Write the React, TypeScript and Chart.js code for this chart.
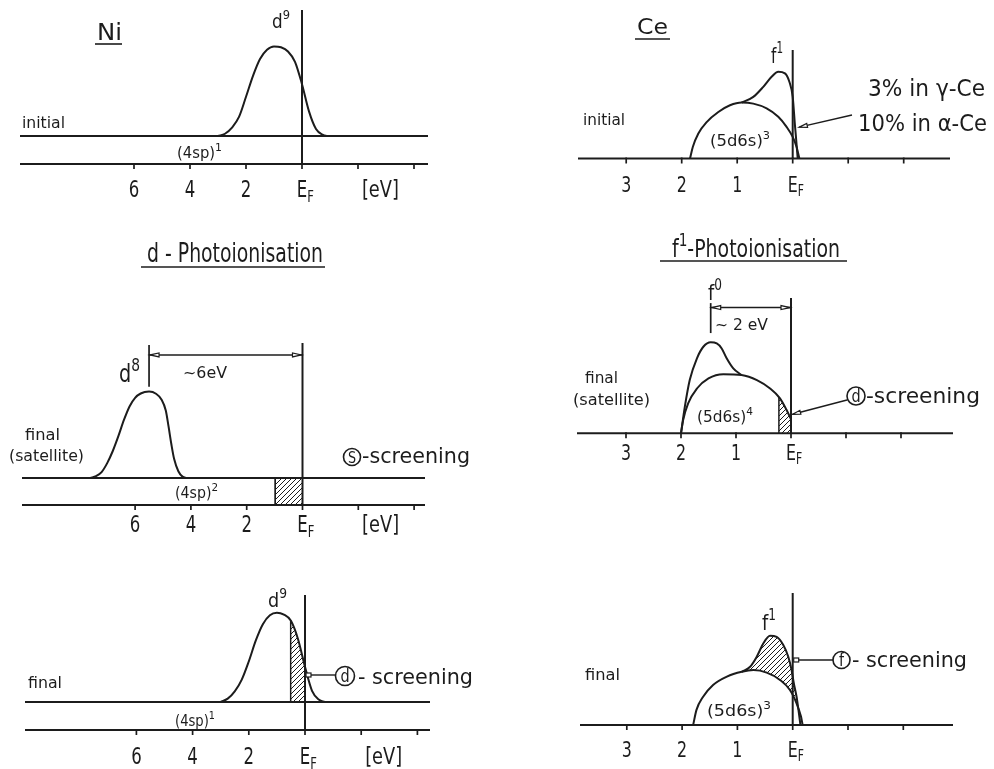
import React, { useEffect, useRef } from 'react';
import { Chart, registerables } from 'chart.js';

Chart.register(...registerables);

const W = 994;
const H = 769;
const INK = '#1c1c1c';
const FONT_FAMILY = '"DejaVu Sans", "Liberation Sans", Arial, sans-serif';

// ---------- energy axes: binding energy in eV, E_F = 0, growing to the left ----------
const niTicks = [6, 4, 2, 0, -2, -4];
const niTickLabels = ['6', '4', '2', 'EF', '', ''];
const ceTicks = [3, 2, 1, 0, -1, -2];
const ceTickLabels = ['3', '2', '1', 'EF', '', ''];
const niUnitLabelAt = -2.8;

// ---------- Ni: the (4sp) band sits below the d states ----------
const niBandLevel = 1;

// Ni, initial state: d9 band
const niInitD9Ev = [3.0, 2.75, 2.5, 2.25, 2.0, 1.75, 1.5, 1.25, 1.0, 0.75, 0.5, 0.25, 0.0, -0.25, -0.5, -0.75, -0.9];
const niInitD9I = [1.0, 1.08, 1.3, 1.68, 2.4, 3.15, 3.75, 4.08, 4.2, 4.17, 4.02, 3.65, 2.85, 1.88, 1.25, 1.04, 1.0];

// Ni, final state (satellite): d8 line ~6 eV below E_F
const niSatD8Ev = [7.6, 7.4, 7.2, 7.0, 6.8, 6.6, 6.4, 6.2, 6.0, 5.8, 5.5, 5.25, 5.05, 4.9, 4.8, 4.7, 4.6, 4.45, 4.3, 4.15];
const niSatD8I = [1.0, 1.07, 1.22, 1.55, 2.0, 2.55, 3.15, 3.65, 3.97, 4.13, 4.2, 4.12, 3.9, 3.5, 2.9, 2.25, 1.7, 1.25, 1.05, 1.0];
// s-screening: the (4sp) states between ~1 eV and E_F
const niSatScreenEv = [0.98, 0.98, 0];
const niSatScreenI = [0, 1, 1];
const niSatMarkTop = 5.93;
const niSatArrowLevel = 5.56;

// Ni, final state: d9 with d-screening
const niFinD9Ev = [3.0, 2.75, 2.5, 2.25, 2.0, 1.75, 1.5, 1.25, 1.0, 0.75, 0.5, 0.25, 0.0, -0.25, -0.5, -0.7];
const niFinD9I = [1.0, 1.12, 1.38, 1.8, 2.45, 3.2, 3.78, 4.1, 4.19, 4.12, 3.9, 3.25, 2.26, 1.4, 1.08, 1.0];
const niFinScreenEv = [0.51, 0.51, 0.4, 0.3, 0.2, 0.1, 0.0];
const niFinScreenI = [1.0, 3.9, 3.64, 3.38, 3.05, 2.66, 2.26];

// Ce, initial state: (5d6s)^3 band and f1 peak
const ceInitDomeEv = [1.85, 1.8, 1.7, 1.55, 1.34, 1.13, 0.92, 0.71, 0.47, 0.26, 0.11, 0.0, -0.07, -0.12];
const ceInitDomeI = [0, 0.41, 0.89, 1.3, 1.66, 1.9, 2.0, 1.96, 1.79, 1.49, 1.13, 0.77, 0.41, 0];
const ceInitF1Ev = [0.92, 0.71, 0.53, 0.38, 0.26, 0.14, 0.06, 0.0, -0.04, -0.07, -0.09];
const ceInitF1I = [2.0, 2.2, 2.56, 2.92, 3.1, 3.04, 2.74, 2.2, 1.2, 0.5, 0];

// Ce, final state (satellite): f0 peak on (5d6s)^4 band
const ceSatF0Ev = [2.0, 1.93, 1.84, 1.71, 1.59, 1.46, 1.35, 1.26, 1.17, 1.05, 0.9];
const ceSatF0I = [0, 0.95, 1.91, 2.68, 3.1, 3.25, 3.21, 3.03, 2.68, 2.32, 2.08];
const ceSatDomeEv = [2.0, 1.96, 1.87, 1.71, 1.5, 1.23, 0.9, 0.62, 0.38, 0.2, 0.08, 0.0];
const ceSatDomeI = [0, 0.48, 1.07, 1.6, 1.96, 2.11, 2.08, 1.9, 1.6, 1.25, 0.83, 0.5];
const ceSatScreenEv = [0.22, 0.22, 0.2, 0.14, 0.08, 0.04, 0.0];
const ceSatScreenI = [0, 1.3, 1.25, 1.06, 0.83, 0.67, 0.5];
const ceSatMarkLow = 3.58;
const ceSatMarkTop = 4.65;
const ceSatArrowLevel = 4.49;

// Ce, final state: f1 with f-screening on (5d6s)^3 band
const ceFinDomeEv = [1.8, 1.74, 1.62, 1.44, 1.19, 0.92, 0.71, 0.47, 0.23, 0.05, -0.07, -0.15, -0.18];
const ceFinDomeI = [0, 0.54, 1.01, 1.43, 1.73, 1.9, 1.96, 1.87, 1.61, 1.25, 0.77, 0.3, 0];
const ceFinF1Ev = [0.92, 0.77, 0.65, 0.53, 0.41, 0.29, 0.17, 0.08, 0.02, -0.02, -0.07, -0.1, -0.14];
const ceFinF1I = [1.9, 2.08, 2.44, 2.92, 3.19, 3.15, 2.86, 2.44, 1.96, 1.49, 1.01, 0.6, 0];

// ---------------------------------------------------------------------------

type Part = { t: string; sup?: boolean; sub?: boolean };
type Opt = { w?: number; sx?: number; align?: 'left' | 'center' | 'right' };

function drawRich(ctx: CanvasRenderingContext2D, parts: Part[], x: number, y: number, size: number, opt: Opt = {}) {
  ctx.save();
  const fontFor = (p: Part) => `${p.sup || p.sub ? Math.round(size * 0.7) : size}px ${FONT_FAMILY}`;
  const widths = parts.map((p) => {
    ctx.font = fontFor(p);
    return ctx.measureText(p.t).width;
  });
  const total = widths.reduce((a, b) => a + b, 0);
  const s = opt.w ? opt.w / total : opt.sx ?? 0.8;
  const drawn = total * s;
  let x0 = x;
  if (opt.align === 'center') x0 = x - drawn / 2;
  else if (opt.align === 'right') x0 = x - drawn;
  ctx.translate(x0, y);
  ctx.scale(s, 1);
  ctx.fillStyle = INK;
  ctx.textBaseline = 'alphabetic';
  ctx.textAlign = 'left';
  let cx = 0;
  parts.forEach((p, i) => {
    ctx.font = fontFor(p);
    const dy = p.sup ? -size * 0.45 : p.sub ? size * 0.2 : 0;
    ctx.fillText(p.t, cx, dy);
    cx += widths[i];
  });
  ctx.restore();
  return drawn;
}

function stroke(ctx: CanvasRenderingContext2D, pts: number[][], width = 1.7) {
  ctx.save();
  ctx.strokeStyle = INK;
  ctx.lineWidth = width;
  ctx.beginPath();
  pts.forEach(([x, y], i) => (i ? ctx.lineTo(x, y) : ctx.moveTo(x, y)));
  ctx.stroke();
  ctx.restore();
}

function arrowHead(ctx: CanvasRenderingContext2D, x: number, y: number, dx: number, dy: number, len = 9, half = 2) {
  const n = Math.hypot(dx, dy);
  const ux = dx / n;
  const uy = dy / n;
  const bx = x - ux * len;
  const by = y - uy * len;
  ctx.save();
  ctx.strokeStyle = INK;
  ctx.lineWidth = 1.2;
  ctx.fillStyle = '#fff';
  ctx.beginPath();
  ctx.moveTo(x, y);
  ctx.lineTo(bx - uy * half, by + ux * half);
  ctx.lineTo(bx + uy * half, by - ux * half);
  ctx.closePath();
  ctx.fill();
  ctx.stroke();
  ctx.restore();
}

function circled(ctx: CanvasRenderingContext2D, cx: number, cy: number, r: number, letter: string, size: number) {
  ctx.save();
  ctx.strokeStyle = INK;
  ctx.lineWidth = 1.6;
  ctx.beginPath();
  ctx.arc(cx, cy, r, 0, Math.PI * 2);
  ctx.stroke();
  ctx.restore();
  drawRich(ctx, [{ t: letter }], cx, cy + size * 0.37, size, { align: 'center', sx: 0.85 });
}

const X = (c: Chart, v: number) => c.scales.x.getPixelForValue(v);
const Y = (c: Chart, v: number) => c.scales.y.getPixelForValue(v);

function energyAxis(c: Chart, ticks: number[], labels: string[], baseline: number, size: number, unitAt?: number) {
  const ctx = c.ctx;
  const a = c.chartArea;
  const y0 = Y(c, 0);
  stroke(ctx, [[a.left, y0], [a.right, y0]], 2);
  ticks.forEach((t, i) => {
    const px = X(c, t);
    stroke(ctx, [[px, y0 - 1], [px, y0 + 5]], 1.7);
    const lab = labels[i];
    if (lab === 'EF') {
      ctx.save();
      ctx.font = `${size}px ${FONT_FAMILY}`;
      const wE = ctx.measureText('E').width * 0.72;
      ctx.restore();
      drawRich(ctx, [{ t: 'E' }, { t: 'F', sub: true }], px - wE / 2, baseline, size, { sx: 0.72 });
    } else if (lab) {
      drawRich(ctx, [{ t: lab }], px, baseline, size, { align: 'center', sx: 0.72 });
    }
  });
  if (unitAt !== undefined) drawRich(ctx, [{ t: '[eV]' }], X(c, unitAt), baseline, size, { align: 'center', w: 37 });
}

function underline(ctx: CanvasRenderingContext2D, x1: number, x2: number, y: number) {
  stroke(ctx, [[x1, y], [x2, y]], 1.6);
}

function openTag(ctx: CanvasRenderingContext2D, x: number, y: number) {
  ctx.save();
  ctx.strokeStyle = INK;
  ctx.lineWidth = 1.2;
  ctx.fillStyle = '#fff';
  ctx.fillRect(x, y - 2, 5, 4);
  ctx.strokeRect(x, y - 2, 5, 4);
  ctx.restore();
}

// ---------------------------------------------------------------------------

type Geo = { left: number; right: number; top: number; bottom: number; ef: number; pxPerEv: number; pxPerUnit: number };
type Range = { xMin: number; xMax: number; yMax: number };

const range = (g: Geo): Range => ({
  xMin: (g.ef - g.right) / g.pxPerEv,
  xMax: (g.ef - g.left) / g.pxPerEv,
  yMax: (g.bottom - g.top) / g.pxPerUnit,
});

const line = (xs: number[], ys: number[], extra: Record<string, unknown> = {}) => ({
  data: xs.map((x, i) => ({ x, y: ys[i] })),
  borderColor: INK,
  borderWidth: 2,
  pointRadius: 0,
  pointHoverRadius: 0,
  fill: false,
  tension: 0,
  clip: false,
  ...extra,
});
const smooth = (xs: number[], ys: number[], extra: Record<string, unknown> = {}) =>
  line(xs, ys, { cubicInterpolationMode: 'monotone', ...extra });
const hatchFill = (xs: number[], ys: number[], pattern: CanvasPattern, fill: unknown, extra: Record<string, unknown> = {}) =>
  line(xs, ys, { borderColor: 'rgba(0,0,0,0)', borderWidth: 0, backgroundColor: pattern, fill, ...extra });

const peakEv = (xs: number[], ys: number[]) => xs[ys.indexOf(Math.max(...ys))];

type Panel = {
  id: string;
  geo: Geo;
  datasets: (r: Range, hatch: CanvasPattern) => any[];
  decorate: (c: Chart) => void;
};

const PANELS: Panel[] = [
  {
    id: 'ni-initial',
    geo: { left: 20, right: 428, top: 10, bottom: 164, ef: 302, pxPerEv: 28, pxPerUnit: 28 },
    datasets: (r) => [
      line([r.xMax, r.xMin], [niBandLevel, niBandLevel]),
      smooth(niInitD9Ev, niInitD9I),
      line([0, 0], [0, r.yMax]),
    ],
    decorate: (c) => {
      const ctx = c.ctx;
      drawRich(ctx, [{ t: 'Ni' }], 97, 40, 23, { w: 25 });
      underline(ctx, 95, 122, 44);
      drawRich(ctx, [{ t: 'd' }, { t: '9', sup: true }], 272, 28, 19, { w: 18 });
      drawRich(ctx, [{ t: 'initial' }], 22, 128, 16, { w: 43 });
      drawRich(ctx, [{ t: '(4sp)' }, { t: '1', sup: true }], 177, 158, 15, { w: 45 });
      energyAxis(c, niTicks, niTickLabels, 197, 23, niUnitLabelAt);
    },
  },
  {
    id: 'ni-satellite',
    geo: { left: 22, right: 425, top: 343, bottom: 505, ef: 302.5, pxPerEv: 27.9, pxPerUnit: 27 },
    datasets: (r, hatch) => [
      hatchFill(niSatScreenEv, niSatScreenI, hatch, 'origin', { borderColor: INK, borderWidth: 1.7 }),
      line([r.xMax, r.xMin], [niBandLevel, niBandLevel]),
      smooth(niSatD8Ev, niSatD8I),
      line([0, 0], [0, r.yMax]),
    ],
    decorate: (c) => {
      const ctx = c.ctx;
      drawRich(ctx, [{ t: 'd - Photoionisation' }], 147, 262, 26, { w: 176 });
      underline(ctx, 141, 325, 267);
      const pk = peakEv(niSatD8Ev, niSatD8I);
      const top = Math.max(...niSatD8I);
      const xp = X(c, pk);
      stroke(ctx, [[xp, Y(c, niSatMarkTop)], [xp, Y(c, top + 0.18)]], 1.7);
      const ya = Y(c, niSatArrowLevel);
      stroke(ctx, [[xp, ya], [X(c, 0), ya]], 1.5);
      arrowHead(ctx, xp + 1, ya, -1, 0);
      arrowHead(ctx, X(c, 0) - 1, ya, 1, 0);
      drawRich(ctx, [{ t: 'd' }, { t: '8', sup: true }], 119, 382, 25, { w: 21 });
      drawRich(ctx, [{ t: '~6eV' }], 183, 378, 16, { w: 44 });
      drawRich(ctx, [{ t: 'final' }], 25, 440, 16, { w: 35 });
      drawRich(ctx, [{ t: '(satellite)' }], 9, 461, 16, { w: 75 });
      circled(ctx, 352, 457, 8.5, 'S', 15);
      drawRich(ctx, [{ t: '-screening' }], 362, 463, 22, { w: 108 });
      drawRich(ctx, [{ t: '(4sp)' }, { t: '2', sup: true }], 175, 498, 15, { w: 43 });
      energyAxis(c, niTicks, niTickLabels, 532, 23, niUnitLabelAt);
    },
  },
  {
    id: 'ni-final',
    geo: { left: 25, right: 430, top: 595, bottom: 730, ef: 305, pxPerEv: 28.1, pxPerUnit: 28 },
    datasets: (r, hatch) => [
      hatchFill(niFinScreenEv, niFinScreenI, hatch, { value: niBandLevel }),
      line(niFinScreenEv.slice(0, 2), niFinScreenI.slice(0, 2), { borderWidth: 1.5 }),
      line([r.xMax, r.xMin], [niBandLevel, niBandLevel]),
      smooth(niFinD9Ev, niFinD9I),
      line([0, 0], [0, r.yMax]),
    ],
    decorate: (c) => {
      const ctx = c.ctx;
      drawRich(ctx, [{ t: 'd' }, { t: '9', sup: true }], 268, 607, 20, { w: 19 });
      drawRich(ctx, [{ t: 'final' }], 28, 688, 16, { w: 34 });
      drawRich(ctx, [{ t: '(4sp)' }, { t: '1', sup: true }], 175, 726, 15, { w: 40 });
      openTag(ctx, X(c, 0) + 1, 675);
      stroke(ctx, [[X(c, 0) + 6, 675], [335.5, 675]], 1.4);
      circled(ctx, 345, 676, 9.5, 'd', 17);
      drawRich(ctx, [{ t: '- screening' }], 358, 684, 22, { w: 115 });
      energyAxis(c, niTicks, niTickLabels, 764, 23, niUnitLabelAt);
    },
  },
  {
    id: 'ce-initial',
    geo: { left: 578, right: 950, top: 50, bottom: 158.5, ef: 792.7, pxPerEv: 55.5, pxPerUnit: 28 },
    datasets: (r) => [
      smooth(ceInitDomeEv, ceInitDomeI),
      smooth(ceInitF1Ev, ceInitF1I),
      line([0, 0], [0, r.yMax]),
    ],
    decorate: (c) => {
      const ctx = c.ctx;
      drawRich(ctx, [{ t: 'Ce' }], 637, 34, 22, { w: 31 });
      underline(ctx, 635, 670, 39);
      drawRich(ctx, [{ t: 'initial' }], 583, 125, 16, { w: 42 });
      drawRich(ctx, [{ t: 'f' }, { t: '1', sup: true }], 771, 63, 22, { w: 12 });
      drawRich(ctx, [{ t: '(5d6s)' }, { t: '3', sup: true }], 710, 146, 16, { w: 60 });
      drawRich(ctx, [{ t: '3% in γ-Ce' }], 868, 96, 23, { w: 117 });
      drawRich(ctx, [{ t: '10% in α-Ce' }], 858, 131, 23, { w: 129 });
      const tx = X(c, -0.12);
      const ty = Y(c, 1.12);
      stroke(ctx, [[852, 115], [tx, ty]], 1.4);
      arrowHead(ctx, tx, ty, tx - 852, ty - 115, 8, 2);
      energyAxis(c, ceTicks, ceTickLabels, 192, 22);
    },
  },
  {
    id: 'ce-satellite',
    geo: { left: 577, right: 953, top: 298, bottom: 433.3, ef: 791, pxPerEv: 55, pxPerUnit: 28 },
    datasets: (r, hatch) => [
      hatchFill(ceSatScreenEv, ceSatScreenI, hatch, 'origin'),
      line(ceSatScreenEv.slice(0, 2), ceSatScreenI.slice(0, 2), { borderWidth: 1.5 }),
      smooth(ceSatDomeEv, ceSatDomeI),
      smooth(ceSatF0Ev, ceSatF0I),
      line([0, 0], [0, r.yMax]),
    ],
    decorate: (c) => {
      const ctx = c.ctx;
      drawRich(ctx, [{ t: 'f' }, { t: '1', sup: true }, { t: '-Photoionisation' }], 672, 257, 25, { w: 168 });
      underline(ctx, 660, 847, 261);
      const xp = X(c, peakEv(ceSatF0Ev, ceSatF0I));
      stroke(ctx, [[xp, Y(c, ceSatMarkTop)], [xp, Y(c, ceSatMarkLow)]], 1.7);
      const ya = Y(c, ceSatArrowLevel);
      stroke(ctx, [[xp, ya], [X(c, 0), ya]], 1.5);
      arrowHead(ctx, xp + 1, ya, -1, 0);
      arrowHead(ctx, X(c, 0) - 1, ya, 1, 0);
      drawRich(ctx, [{ t: 'f' }, { t: '0', sup: true }], 708, 300, 22, { w: 14 });
      drawRich(ctx, [{ t: '~ 2 eV' }], 715, 330, 16, { w: 53 });
      drawRich(ctx, [{ t: 'final' }], 585, 383, 16, { w: 33 });
      drawRich(ctx, [{ t: '(satellite)' }], 573, 405, 16, { w: 77 });
      drawRich(ctx, [{ t: '(5d6s)' }, { t: '4', sup: true }], 697, 422, 16, { w: 56 });
      const tx = X(c, -0.03);
      const ty = Y(c, 0.68);
      stroke(ctx, [[847, 400], [tx, ty]], 1.4);
      arrowHead(ctx, tx, ty, tx - 847, ty - 400, 8, 2);
      circled(ctx, 856, 396, 9, 'd', 17);
      drawRich(ctx, [{ t: '-screening' }], 866, 403, 22, { w: 114 });
      energyAxis(c, ceTicks, ceTickLabels, 460, 22);
    },
  },
  {
    id: 'ce-final',
    geo: { left: 580, right: 953, top: 593, bottom: 725, ef: 792.7, pxPerEv: 55.3, pxPerUnit: 28 },
    datasets: (r, hatch) => [
      smooth(ceFinDomeEv, ceFinDomeI),
      smooth(ceFinF1Ev, ceFinF1I, { fill: 0, backgroundColor: hatch }),
      line([0, 0], [0, r.yMax]),
    ],
    decorate: (c) => {
      const ctx = c.ctx;
      drawRich(ctx, [{ t: 'f' }, { t: '1', sup: true }], 762, 630, 22, { w: 14 });
      drawRich(ctx, [{ t: 'final' }], 585, 680, 16, { w: 35 });
      drawRich(ctx, [{ t: '(5d6s)' }, { t: '3', sup: true }], 707, 716, 16, { w: 64 });
      const x0 = X(c, 0);
      openTag(ctx, x0 + 1, 660);
      stroke(ctx, [[x0 + 6, 660], [833, 660]], 1.4);
      circled(ctx, 841.5, 660, 8.5, 'f', 17);
      drawRich(ctx, [{ t: '- screening' }], 852, 667, 22, { w: 115 });
      energyAxis(c, ceTicks, ceTickLabels, 757, 22);
    },
  },
];

function makeHatch(): CanvasPattern {
  const c = document.createElement('canvas');
  c.width = 5;
  c.height = 5;
  const g = c.getContext('2d')!;
  g.strokeStyle = INK;
  g.lineWidth = 1;
  g.beginPath();
  g.moveTo(0, 5);
  g.lineTo(5, 0);
  g.moveTo(-1, 1);
  g.lineTo(1, -1);
  g.moveTo(4, 6);
  g.lineTo(6, 4);
  g.stroke();
  return g.createPattern(c, 'repeat')!;
}

export default function App() {
  const refs = useRef<(HTMLCanvasElement | null)[]>([]);

  useEffect(() => {
    const hatch = makeHatch();
    const charts = PANELS.map((p, i) => {
      const r = range(p.geo);
      const g = p.geo;
      return new Chart(refs.current[i]!, {
        type: 'line',
        data: { datasets: p.datasets(r, hatch) },
        options: {
          responsive: false,
          animation: false,
          devicePixelRatio: 1,
          events: [],
          layout: {
            autoPadding: false,
            padding: { left: g.left, right: W - g.right, top: g.top, bottom: H - g.bottom },
          },
          plugins: { legend: { display: false }, tooltip: { enabled: false }, title: { display: false } },
          scales: {
            x: { type: 'linear', reverse: true, min: r.xMin, max: r.xMax, display: false },
            y: { type: 'linear', min: 0, max: r.yMax, display: false },
          },
        },
        plugins: [{ id: 'annotate-' + p.id, afterDatasetsDraw: (c: Chart) => p.decorate(c) }],
      } as any);
    });
    return () => charts.forEach((c) => c.destroy());
  }, []);

  return (
    <div style={{ position: 'absolute', left: 0, top: 0, width: W, height: H, background: '#fff', overflow: 'hidden' }}>
      {PANELS.map((p, i) => (
        <canvas
          key={p.id}
          ref={(el) => {
            refs.current[i] = el;
          }}
          width={W}
          height={H}
          style={{ position: 'absolute', left: 0, top: 0 }}
        />
      ))}
    </div>
  );
}
